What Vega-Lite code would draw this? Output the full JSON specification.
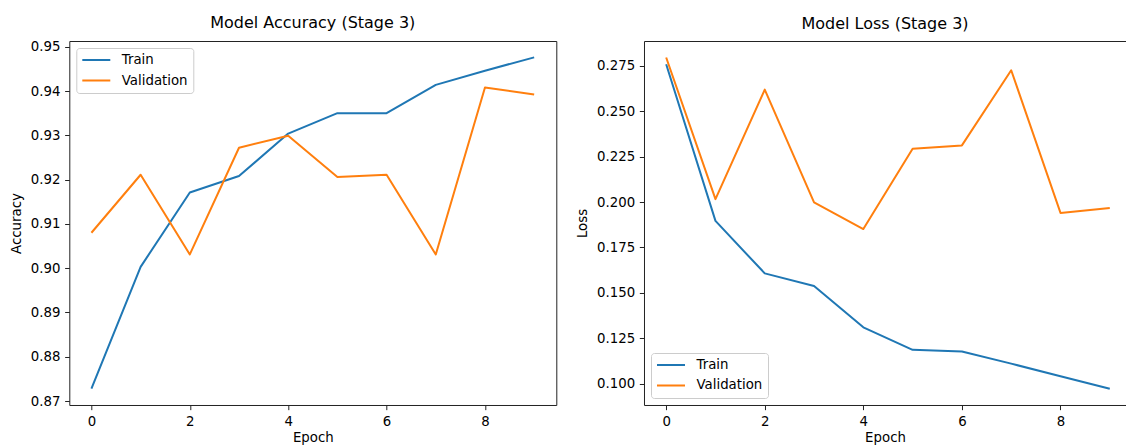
{
  "$schema": "https://vega.github.io/schema/vega-lite/v6.json",
  "padding": {"left": 8.3, "top": 14, "right": 0, "bottom": 0},
  "background": "white",
  "spacing": 87.7,
  "bounds": "flush",
  "config": {
    "font": "DejaVu Sans",
    "view": {"stroke": "#222222", "strokeWidth": 1},
    "axis": {
      "grid": false,
      "domain": false,
      "domainColor": "#222222",
      "domainWidth": 1,
      "tickColor": "#222222",
      "tickWidth": 1,
      "tickSize": 4.67,
      "labelPadding": 4.67,
      "labelFont": "DejaVu Sans",
      "labelFontSize": 13.33,
      "labelColor": "#000000",
      "titleFont": "DejaVu Sans",
      "titleFontSize": 13.33,
      "titleFontWeight": "normal",
      "titleColor": "#000000"
    },
    "axisX": {"titlePadding": 3},
    "axisY": {"titlePadding": 7},
    "legend": {
      "title": null,
      "offset": 7,
      "symbolType": "stroke",
      "symbolSize": 784,
      "symbolStrokeWidth": 2,
      "clipHeight": 14,
      "rowPadding": 6.5,
      "labelOffset": 10.5,
      "padding": 5,
      "strokeColor": "#cccccc",
      "fillColor": "white",
      "cornerRadius": 3,
      "labelFont": "DejaVu Sans",
      "labelFontSize": 13.33,
      "labelColor": "#000000"
    },
    "title": {
      "font": "DejaVu Sans",
      "fontSize": 16,
      "fontWeight": "normal",
      "color": "#000000",
      "offset": 9,
      "baseline": "alphabetic",
      "anchor": "middle",
      "frame": "group"
    }
  },
  "data": {
    "values": [
      {"epoch": 0, "series": "Train", "accuracy": 0.8728, "loss": 0.2759},
      {"epoch": 1, "series": "Train", "accuracy": 0.9003, "loss": 0.1896},
      {"epoch": 2, "series": "Train", "accuracy": 0.9171, "loss": 0.1607},
      {"epoch": 3, "series": "Train", "accuracy": 0.9208, "loss": 0.1537},
      {"epoch": 4, "series": "Train", "accuracy": 0.9304, "loss": 0.1310},
      {"epoch": 5, "series": "Train", "accuracy": 0.9350, "loss": 0.1186},
      {"epoch": 6, "series": "Train", "accuracy": 0.9350, "loss": 0.1177},
      {"epoch": 7, "series": "Train", "accuracy": 0.9414, "loss": 0.1110},
      {"epoch": 8, "series": "Train", "accuracy": 0.9446, "loss": 0.1040},
      {"epoch": 9, "series": "Train", "accuracy": 0.9476, "loss": 0.0972},
      {"epoch": 0, "series": "Validation", "accuracy": 0.9080, "loss": 0.2796},
      {"epoch": 1, "series": "Validation", "accuracy": 0.9211, "loss": 0.2016},
      {"epoch": 2, "series": "Validation", "accuracy": 0.9031, "loss": 0.2619},
      {"epoch": 3, "series": "Validation", "accuracy": 0.9272, "loss": 0.1998},
      {"epoch": 4, "series": "Validation", "accuracy": 0.9299, "loss": 0.1851},
      {"epoch": 5, "series": "Validation", "accuracy": 0.9206, "loss": 0.2294},
      {"epoch": 6, "series": "Validation", "accuracy": 0.9211, "loss": 0.2312},
      {"epoch": 7, "series": "Validation", "accuracy": 0.9031, "loss": 0.2726},
      {"epoch": 8, "series": "Validation", "accuracy": 0.9408, "loss": 0.1940},
      {"epoch": 9, "series": "Validation", "accuracy": 0.9392, "loss": 0.1967}
    ]
  },
  "resolve": {
    "scale": {"x": "independent", "y": "independent", "color": "independent"},
    "legend": {"color": "independent"}
  },
  "hconcat": [
    {
      "width": 487,
      "height": 364,
      "title": "Model Accuracy (Stage 3)",
      "mark": {"type": "line", "strokeWidth": 2, "strokeJoin": "round"},
      "encoding": {
        "x": {
          "field": "epoch", "type": "quantitative",
          "scale": {"domain": [-0.45, 9.45], "nice": false, "zero": false},
          "axis": {"values": [0, 2, 4, 6, 8], "format": "d", "title": "Epoch"}
        },
        "y": {
          "field": "accuracy", "type": "quantitative",
          "scale": {"domain": [0.8691, 0.9513], "nice": false, "zero": false},
          "axis": {"values": [0.87, 0.88, 0.89, 0.9, 0.91, 0.92, 0.93, 0.94, 0.95], "format": ".2f", "title": "Accuracy"}
        },
        "color": {
          "field": "series", "type": "nominal",
          "scale": {"domain": ["Train", "Validation"], "range": ["#1f77b4", "#ff7f0e"]},
          "legend": {"orient": "top-left"}
        }
      }
    },
    {
      "width": 482,
      "height": 364,
      "title": "Model Loss (Stage 3)",
      "view": {"stroke": null},
      "resolve": {"axis": {"x": "independent"}},
      "layer": [
        {
          "mark": {"type": "line", "strokeWidth": 2, "strokeJoin": "round"},
          "encoding": {
            "x": {
              "field": "epoch", "type": "quantitative",
              "scale": {"domain": [-0.45, 9.329], "nice": false, "zero": false},
              "axis": {"values": [0, 2, 4, 6, 8], "format": "d", "title": "Epoch", "domain": true}
            },
            "y": {
              "field": "loss", "type": "quantitative",
              "scale": {"domain": [0.0882, 0.2887], "nice": false, "zero": false},
              "axis": {"values": [0.1, 0.125, 0.15, 0.175, 0.2, 0.225, 0.25, 0.275], "format": ".3f", "title": "Loss", "domain": true}
            },
            "color": {
              "field": "series", "type": "nominal",
              "scale": {"domain": ["Train", "Validation"], "range": ["#1f77b4", "#ff7f0e"]},
              "legend": {"orient": "bottom-left"}
            }
          }
        },
        {
          "mark": {"type": "line", "opacity": 0},
          "encoding": {
            "x": {
              "field": "epoch", "type": "quantitative",
              "axis": {"orient": "top", "domain": true, "labels": false, "ticks": false, "title": null}
            },
            "y": {
              "field": "loss", "type": "quantitative",
              "axis": {"values": [0.1, 0.125, 0.15, 0.175, 0.2, 0.225, 0.25, 0.275], "format": ".3f", "title": "Loss", "domain": true}
            },
            "detail": {"field": "series", "type": "nominal"}
          }
        }
      ]
    }
  ]
}
